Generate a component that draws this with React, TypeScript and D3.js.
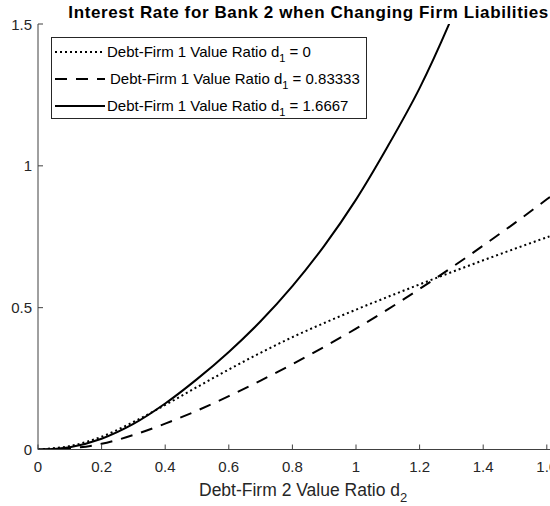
import React from "react";
import * as d3 from "d3";

const xs = [0, 0.1, 0.2, 0.3, 0.4, 0.5, 0.6, 0.7, 0.8, 0.9, 1.0, 1.1, 1.2, 1.3, 1.4, 1.5, 1.6, 1.7];
const dottedVals = [0, 0.012, 0.045, 0.097, 0.157, 0.22, 0.282, 0.341, 0.396, 0.446, 0.493, 0.538, 0.582, 0.625, 0.667, 0.708, 0.748, 0.787];
const dashedVals = [0, 0.004, 0.02, 0.051, 0.091, 0.137, 0.188, 0.243, 0.301, 0.362, 0.426, 0.494, 0.566, 0.641, 0.719, 0.799, 0.882, 0.967];
const solidVals = [0, 0.008, 0.038, 0.09, 0.162, 0.248, 0.344, 0.452, 0.576, 0.718, 0.881, 1.069, 1.274, 1.519, 1.8, 2.12, 2.48, 2.88];

const seriesNames = [
  { label: "0", dash: "2,3", vals: dottedVals },
  { label: "0.83333", dash: "12,9", vals: dashedVals },
  { label: "1.6667", dash: null as string | null, vals: solidVals },
];

const xTicks = [0, 0.2, 0.4, 0.6, 0.8, 1, 1.2, 1.4, 1.6];
const yTicks = [0, 0.5, 1, 1.5];

const W = 550;
const H = 506;
const left = 38;
const top = 24;
const bottom = 449.5;
const right = 578.6;

export default function App() {
  const x = d3.scaleLinear().domain([0, 1.7]).range([left, right]);
  const y = d3.scaleLinear().domain([0, 1.5]).range([bottom, top]);
  const line = d3
    .line<number>()
    .x((_, i) => x(xs[i]))
    .y((d) => y(d))
    .curve(d3.curveCatmullRom);
  const font = "Liberation Sans, Arial, Helvetica, sans-serif";
  const axisColor = "#404040";
  const textColor = "#262626";
  const tickLen = 5;
  const legX = 51;
  const legY = 37;
  const legW = 315;
  const legH = 81;
  const rowY = [52, 79, 106];
  return (
    <svg
      width={W}
      height={H}
      style={{ position: "absolute", left: 0, top: 0, display: "block", overflow: "hidden", background: "#fff" }}
      fontFamily={font}
    >
      <rect x={0} y={0} width={W} height={H} fill="#fff" />
      <defs>
        <clipPath id="plotclip">
          <rect x={left} y={top} width={right - left} height={bottom - top} />
        </clipPath>
      </defs>
      <g clipPath="url(#plotclip)">
        {seriesNames.map((s, i) => (
          <path
            key={i}
            d={line(s.vals) || ""}
            fill="none"
            stroke="#000"
            strokeWidth={2}
            strokeDasharray={s.dash || undefined}
          />
        ))}
      </g>
      <line x1={left} x2={right} y1={bottom} y2={bottom} stroke={axisColor} strokeWidth={1} />
      <line x1={left} x2={left} y1={bottom} y2={top} stroke={axisColor} strokeWidth={1} />
      {xTicks.map((t) => (
        <g key={"x" + t}>
          <line x1={x(t)} x2={x(t)} y1={bottom} y2={bottom - tickLen} stroke={axisColor} strokeWidth={1} />
          <text x={x(t)} y={bottom + 22} textAnchor="middle" fontSize={15} fill={textColor}>
            {String(t)}
          </text>
        </g>
      ))}
      {yTicks.map((t) => (
        <g key={"y" + t}>
          <line x1={left} x2={left + tickLen} y1={y(t)} y2={y(t)} stroke={axisColor} strokeWidth={1} />
          <text x={left - 6} y={y(t) + 5.5} textAnchor="end" fontSize={15} fill={textColor}>
            {String(t)}
          </text>
        </g>
      ))}
      <text
        x={(left + right) / 2}
        y={18}
        textAnchor="middle"
        fontSize={17}
        fontWeight="bold"
        fill="#000"
        textLength={480}
        lengthAdjust="spacing"
      >
        Interest Rate for Bank 2 when Changing Firm Liabilities
      </text>
      <text x={199} y={496} fontSize={17.5} fill={textColor}>
        Debt-Firm 2 Value Ratio d<tspan dy={6} fontSize={13}>2</tspan>
      </text>
      <rect x={legX + 0.5} y={legY + 0.5} width={legW} height={legH} fill="#fff" stroke="#262626" strokeWidth={1} />
      {seriesNames.map((s, i) => (
        <g key={"leg" + i}>
          <line
            x1={55}
            x2={105}
            y1={rowY[i]}
            y2={rowY[i]}
            stroke="#000"
            strokeWidth={2}
            strokeDasharray={s.dash || undefined}
          />
          <text x={i === 1 ? 110 : 107} y={rowY[i] + 5} fontSize={15} fill="#000">
            Debt-Firm 1 Value Ratio d<tspan dy={5} fontSize={11}>1</tspan>
            <tspan dy={-5}> = {s.label}</tspan>
          </text>
        </g>
      ))}
    </svg>
  );
}
